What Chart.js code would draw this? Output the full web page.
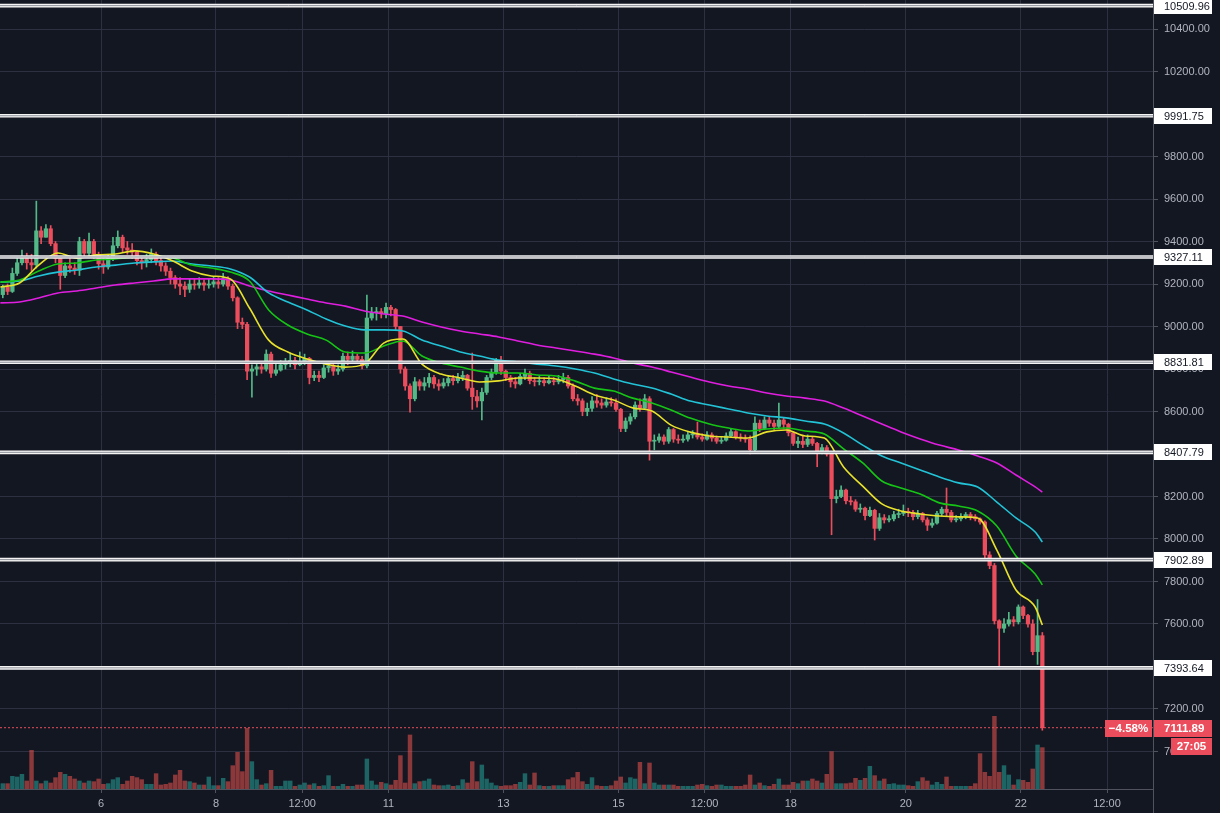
<!DOCTYPE html>
<html>
<head>
<meta charset="utf-8">
<script src="https://cdn.jsdelivr.net/npm/chart.js@4.4.1/dist/chart.umd.min.js"></script>
<style>
  html, body { margin: 0; padding: 0; background: #131722; }
  #wrap { width: 1220px; height: 813px; }
</style>
</head>
<body>
<div id="wrap"><canvas id="chart" width="1220" height="813"></canvas></div>
<script>
// BTC/USD, 2h bars. Time axis is in hours counted from day 4 00:00.
const FIRST_OPEN = 9150;
const FIRST_BAR_HOUR = 7;    // centre of the first bar
const BAR_HOURS = 2;

const closes = [
  9185, 9165, 9250, 9300, 9320, 9300, 9290, 9450, 9420, 9460,
  9390, 9320, 9240, 9285, 9275, 9265, 9400, 9345, 9400, 9340,
  9295, 9280, 9320, 9380, 9420, 9370, 9360, 9350, 9310, 9300,
  9315, 9340, 9310, 9285, 9260, 9230, 9200, 9190, 9175, 9200,
  9195, 9205, 9195, 9200, 9210, 9200, 9225, 9190, 9135, 9020,
  9010, 8790, 8800, 8810, 8800, 8870, 8780, 8795, 8820, 8830,
  8840, 8820, 8835, 8850, 8760, 8770, 8760, 8805, 8815, 8790,
  8800, 8860, 8845, 8860, 8845, 8815, 9040, 9065, 9070, 9060,
  9090, 9080, 9000, 8800, 8720, 8660, 8740, 8720, 8735, 8760,
  8730, 8720, 8735, 8755, 8745, 8760, 8770, 8710, 8670, 8650,
  8690, 8760, 8785, 8840, 8790, 8760, 8740, 8730, 8765, 8780,
  8745, 8740, 8745, 8735, 8745, 8740, 8750, 8760, 8720, 8660,
  8650, 8600, 8615, 8650, 8640, 8630, 8645, 8640, 8610, 8520,
  8555, 8575, 8630, 8615, 8660, 8460, 8465, 8480, 8460, 8515,
  8470, 8465, 8470, 8490, 8495, 8480, 8470, 8490, 8475, 8460,
  8465, 8485, 8505, 8480, 8475, 8470, 8420, 8545, 8520, 8560,
  8545, 8530, 8560, 8540, 8500, 8450, 8460, 8445, 8470, 8450,
  8405, 8430, 8400, 8190, 8200, 8230, 8180, 8175, 8140, 8145,
  8110, 8135, 8050, 8100, 8090, 8095, 8115, 8120, 8130, 8125,
  8105, 8120, 8090, 8065, 8075, 8120, 8140, 8125, 8090, 8095,
  8105, 8115, 8105, 8095, 8080, 7925, 7875, 7615, 7580, 7600,
  7620, 7610, 7680, 7640, 7600, 7470, 7545, 7111.89
];
const highs = [
  9195, 9200, 9275, 9320, 9360, 9345, 9340, 9590, 9470, 9480,
  9475, 9400, 9320, 9300, 9320, 9300, 9420, 9410, 9440, 9410,
  9350, 9320, 9340, 9420, 9450, 9430, 9400, 9390, 9355, 9330,
  9340, 9365, 9350, 9330, 9300, 9275, 9240, 9230, 9210, 9225,
  9225, 9230, 9220, 9225, 9235, 9230, 9250, 9235, 9200, 9140,
  9040, 9020, 8820, 8830, 8830, 8890, 8880, 8830, 8840, 8850,
  8875, 8855, 8880, 8870, 8855, 8790, 8790, 8820, 8835, 8830,
  8820, 8875, 8880, 8885, 8870, 8860, 9148, 9090, 9090, 9085,
  9110, 9100, 9085, 9000, 8810, 8730, 8760, 8750, 8760, 8780,
  8770, 8750, 8755, 8770, 8770, 8780, 8790, 8775, 8875, 8700,
  8710, 8770, 8800, 8850, 8860, 8795, 8770, 8760, 8780, 8800,
  8790, 8760, 8765, 8760, 8765, 8760, 8770, 8780, 8770, 8730,
  8680, 8660, 8640, 8670, 8680, 8660, 8665, 8665, 8660, 8615,
  8570, 8590, 8645, 8660, 8680, 8670, 8490, 8495, 8490, 8525,
  8520, 8490, 8490, 8505, 8510, 8550, 8495, 8505, 8500, 8485,
  8480, 8500, 8520, 8510, 8495, 8490, 8485, 8575, 8560, 8575,
  8575, 8560, 8640, 8570, 8545, 8505, 8480, 8485, 8490, 8480,
  8455, 8445, 8440, 8410, 8230, 8250, 8235, 8200, 8185, 8165,
  8150, 8150, 8140, 8120, 8115, 8110, 8130, 8140, 8160, 8145,
  8135, 8135, 8125, 8100, 8095, 8130, 8150, 8240, 8135, 8110,
  8120, 8125, 8125, 8115, 8100, 8085, 7940, 7885, 7620, 7625,
  7655, 7635, 7690, 7685, 7645, 7620, 7715, 7560
];
const lows = [
  9135, 9150, 9160, 9240, 9290, 9270, 9260, 9275, 9390, 9420,
  9380, 9300, 9175, 9230, 9255, 9245, 9240, 9330, 9330, 9320,
  9270, 9250, 9270, 9310, 9370, 9350, 9340, 9320, 9290, 9270,
  9280, 9300, 9290, 9260, 9240, 9200, 9180, 9150, 9140, 9160,
  9175, 9180, 9170, 9180, 9185, 9180, 9190, 9175, 9120, 8990,
  8990, 8750, 8668, 8770, 8780, 8790, 8760, 8770, 8790, 8800,
  8810, 8800, 8815, 8820, 8730, 8745, 8740, 8755, 8785, 8770,
  8775, 8790, 8820, 8830, 8825, 8800, 8805, 9030, 9030, 9040,
  9040, 9050, 8985, 8780, 8700, 8597, 8650, 8700, 8700, 8715,
  8710, 8700, 8710, 8720, 8725, 8735, 8745, 8700, 8610, 8620,
  8560, 8680, 8750, 8775, 8775, 8745, 8715, 8710, 8725, 8750,
  8730, 8720, 8725, 8720, 8730, 8725, 8730, 8735, 8710, 8650,
  8630, 8580, 8580, 8600, 8620, 8615, 8620, 8625, 8600, 8505,
  8505, 8540, 8565, 8600, 8610, 8371, 8420, 8455, 8445, 8450,
  8455, 8450, 8455, 8460, 8475, 8470, 8460, 8465, 8460, 8450,
  8450, 8460, 8480, 8470, 8460, 8455, 8400, 8410, 8505, 8515,
  8530, 8515, 8520, 8520, 8485, 8440, 8430, 8430, 8435, 8440,
  8340, 8400, 8390, 8020, 8170, 8195, 8165, 8160, 8130, 8125,
  8090, 8105, 7995, 8040, 8075, 8080, 8085, 8100, 8110, 8105,
  8090, 8095, 8080, 8040, 8055, 8070, 8110, 8105, 8080, 8080,
  8085, 8095, 8090, 8085, 8070, 7905, 7860, 7600, 7397, 7560,
  7590, 7590, 7600, 7625, 7585, 7455, 7410, 7100
];
const volumes = [
  8, 8, 19, 18, 22, 12, 58, 12, 8, 12,
  9, 17, 25, 22, 19, 15, 12, 9, 12, 11,
  15, 7, 8, 14, 17, 7, 12, 19, 17, 14,
  7, 7, 23, 6, 7, 9, 21, 28, 12, 11,
  9, 6, 6, 18, 5, 5, 16, 11, 35, 55,
  26, 91, 41, 14, 6, 8, 28, 4, 4, 12,
  12, 4, 6, 9, 6, 8, 4, 5, 20, 4,
  4, 7, 4, 4, 6, 6, 45, 12, 6, 10,
  8, 6, 13, 50, 9, 81, 8, 11, 12, 15,
  6, 5, 5, 6, 4, 5, 14, 9, 41, 11,
  36, 15, 9, 5, 4, 5, 5, 7, 10, 23,
  6, 24, 5, 4, 4, 5, 5, 5, 14, 17,
  25, 11, 7, 17, 5, 4, 4, 5, 12, 18,
  9, 17, 15, 40, 8, 39, 9, 6, 6, 6,
  6, 4, 4, 4, 4, 6, 7, 5, 4, 6,
  6, 4, 4, 4, 4, 6, 21, 6, 9, 5,
  4, 7, 15, 6, 6, 10, 8, 12, 12, 15,
  12, 9, 22, 56, 8, 8, 8, 9, 16, 13,
  16, 34, 20, 12, 15, 7, 8, 6, 6, 5,
  4, 11, 17, 12, 6, 10, 7, 18, 4, 4,
  4, 4, 4, 8, 53, 25, 19, 109, 25, 35,
  21, 6, 14, 13, 10, 30, 66, 62
];

// moving averages, read every 8 hours
const maHours = [
  6, 14, 22, 30, 38, 46, 54, 62, 70, 78, 86, 94, 102, 110, 118, 126, 134, 142, 150, 158,
  166, 174, 182, 190, 198, 206, 214, 222, 230, 238, 246, 254, 262, 270, 278, 286, 294, 302, 310, 318,
  326, 334, 342, 350, 358, 366, 374, 382, 390, 398, 406, 414, 422, 430, 438, 441
];
const maYellow = [
  9186, 9205, 9289, 9346, 9322, 9337, 9341, 9356, 9341, 9308,
  9261, 9238, 9224, 9087, 8936, 8880, 8847, 8823, 8809, 8823,
  8922, 8941, 8823, 8776, 8758, 8739, 8744, 8758, 8758, 8753,
  8720, 8678, 8654, 8617, 8602, 8536, 8503, 8485, 8480, 8475,
  8504, 8513, 8485, 8475, 8339, 8249, 8165, 8132, 8118, 8108,
  8104, 8099, 7948, 7760, 7680, 7595
];
const maGreen = [
  9209, 9219, 9261, 9294, 9299, 9313, 9318, 9327, 9332, 9322,
  9289, 9275, 9256, 9214, 9078, 9007, 8965, 8936, 8880, 8875,
  8908, 8932, 8861, 8828, 8809, 8790, 8781, 8781, 8772, 8767,
  8743, 8710, 8696, 8663, 8640, 8607, 8569, 8541, 8522, 8508,
  8518, 8522, 8508, 8494, 8424, 8358, 8273, 8240, 8212, 8170,
  8155, 8132, 8061, 7920, 7835, 7784
];
const maCyan = [
  9209, 9214, 9238, 9256, 9266, 9280, 9289, 9299, 9304, 9308,
  9294, 9285, 9271, 9233, 9158, 9115, 9078, 9035, 9002, 8984,
  8984, 8979, 8936, 8908, 8880, 8861, 8842, 8833, 8823, 8814,
  8800, 8781, 8753, 8729, 8711, 8682, 8649, 8631, 8612, 8593,
  8579, 8570, 8555, 8541, 8499, 8442, 8391, 8358, 8325, 8292,
  8264, 8245, 8174, 8099, 8033, 7986
];
const maMagenta = [
  9111, 9115, 9134, 9158, 9167, 9181, 9195, 9205, 9214, 9224,
  9224, 9224, 9219, 9191, 9167, 9148, 9129, 9111, 9096, 9073,
  9059, 9049, 9021, 8998, 8979, 8965, 8951, 8932, 8913, 8899,
  8885, 8870, 8852, 8828, 8809, 8786, 8762, 8739, 8720, 8706,
  8687, 8673, 8663, 8649, 8616, 8579, 8541, 8504, 8471, 8442,
  8419, 8391, 8358, 8301, 8245, 8221
];

const levels = [10509.96, 9991.75, 9327.11, 8831.81, 8407.79, 7902.89, 7393.64];
const lastPrice = 7111.89;
const changeText = "\u22124.58%";
const countdownText = "27:05";

const yTicks = [7000, 7200, 7400, 7600, 7800, 8000, 8200, 8400, 8600, 8800,
                9000, 9200, 9400, 9600, 9800, 10000, 10200, 10400];
const xTickHours = [48, 96, 132, 168, 216, 264, 300, 336, 384, 432, 468];
const xTickLabels = ["6", "8", "12:00", "11", "13", "15", "12:00", "18", "20", "22", "12:00"];

// visible window
const X_MIN = 5.83, X_MAX = 487.2;
const Y_MIN = 6823.5, Y_MAX = 10536.5;
const VOL_MAX = 1183;

// colours
const BG = "#131722";
const GRID = "#2c3040";
const AXIS = "#50535e";
const TEXT = "#b2b5be";
const UP = "#53b987";
const DOWN = "#eb4d5c";
const VOL_UP = "rgba(38,166,154,0.55)";
const VOL_DOWN = "rgba(239,83,80,0.55)";

Chart.defaults.font.family = "'Liberation Sans', Arial, sans-serif";

const opens = closes.map((c, i) => i === 0 ? FIRST_OPEN : closes[i - 1]);
const barHours = closes.map((_, i) => FIRST_BAR_HOUR + BAR_HOURS * i);
const isUp = closes.map((c, i) => c >= opens[i]);
const candleColors = isUp.map(u => u ? UP : DOWN);

const barCommon = { grouped: false, barPercentage: 1, categoryPercentage: 1 };

function maLine(values, color, order) {
  return {
    type: "line",
    data: maHours.map((h, i) => ({ x: h, y: values[i] })),
    borderColor: color,
    borderWidth: 1.6,
    pointRadius: 0,
    cubicInterpolationMode: "monotone",
    order,
  };
}

function levelLine(value, color, width, order) {
  return {
    type: "line",
    data: [{ x: X_MIN, y: value }, { x: X_MAX, y: value }],
    borderColor: color,
    borderWidth: width,
    pointRadius: 0,
    order,
  };
}

const datasets = [
  {
    ...barCommon,
    yAxisID: "yv",
    data: barHours.map((h, i) => ({ x: h, y: volumes[i] })),
    backgroundColor: isUp.map(u => u ? VOL_UP : VOL_DOWN),
    maxBarThickness: 3.8,
    order: 20,
  },
  {
    type: "line",
    data: [{ x: X_MIN, y: lastPrice }, { x: X_MAX, y: lastPrice }],
    borderColor: DOWN,
    borderWidth: 1,
    borderDash: [2, 2],
    pointRadius: 0,
    order: 19,
  },
  {
    ...barCommon,
    data: barHours.map((h, i) => ({ x: h, y: [lows[i], highs[i]] })),
    backgroundColor: candleColors,
    maxBarThickness: 1,
    order: 18,
  },
  {
    ...barCommon,
    data: barHours.map((h, i) => ({ x: h, y: [opens[i], closes[i]] })),
    backgroundColor: candleColors,
    maxBarThickness: 3.6,
    minBarLength: 1,
    order: 17,
  },
  maLine(maMagenta, "#e01ee0", 10),
  maLine(maCyan, "#22c3d6", 9),
  maLine(maGreen, "#16c416", 8),
  maLine(maYellow, "#e8e22c", 7),
];
levels.forEach(lv => {
  datasets.push(levelLine(lv, "#f4f4f4", 3.6, 2));
  datasets.push(levelLine(lv, "#8d9099", 1, 1));
});

// background, price-scale tags and the last-price badges
const tvDecor = {
  id: "tvDecor",
  beforeDraw(chart) {
    const { ctx, width, height } = chart;
    ctx.save();
    ctx.fillStyle = BG;
    ctx.fillRect(0, 0, width, height);
    ctx.restore();
  },
  afterDraw(chart) {
    const { ctx } = chart;
    const ys = chart.scales.y;
    const left = ys.left;
    ctx.save();
    ctx.textBaseline = "middle";

    ctx.font = "11px 'Liberation Sans', Arial, sans-serif";
    levels.forEach(lv => {
      const py = Math.round(ys.getPixelForValue(lv));
      ctx.fillStyle = "#ffffff";
      ctx.fillRect(left + 1, py - 8, 58, 16);
      ctx.fillStyle = BG;
      ctx.textAlign = "left";
      ctx.fillText(lv.toFixed(2), left + 11, py + 0.5);
    });

    const lp = Math.round(ys.getPixelForValue(lastPrice));
    ctx.font = "bold 11.5px 'Liberation Sans', Arial, sans-serif";
    ctx.fillStyle = DOWN;
    ctx.fillRect(left - 48, lp - 8, 47, 17);
    ctx.fillRect(left + 1, lp - 8, 58, 17);
    ctx.fillRect(left + 18, lp + 10, 41, 17);
    ctx.fillStyle = "#ffffff";
    ctx.textAlign = "center";
    ctx.fillText(changeText, left - 24.5, lp + 1);
    ctx.fillText(countdownText, left + 38.5, lp + 19);
    ctx.textAlign = "left";
    ctx.fillText(lastPrice.toFixed(2), left + 11, lp + 1);

    // price axis line through the time-scale strip
    ctx.strokeStyle = AXIS;
    ctx.lineWidth = 1;
    ctx.beginPath();
    ctx.moveTo(left + 0.5, chart.chartArea.bottom);
    ctx.lineTo(left + 0.5, chart.height);
    ctx.stroke();
    ctx.restore();
  },
};

new Chart(document.getElementById("chart"), {
  type: "bar",
  data: { datasets },
  plugins: [tvDecor],
  options: {
    responsive: false,
    animation: false,
    devicePixelRatio: 1,
    layout: { padding: 0 },
    plugins: { legend: { display: false }, tooltip: { enabled: false } },
    scales: {
      x: {
        type: "linear",
        position: "bottom",
        min: X_MIN,
        max: X_MAX,
        offset: false,
        afterBuildTicks: s => { s.ticks = xTickHours.map(v => ({ value: v })); },
        afterFit: s => { s.height = 24; s.paddingLeft = 0; s.paddingRight = 0; },
        grid: { color: GRID, offset: false, tickLength: 4, tickColor: AXIS },
        border: { color: AXIS },
        ticks: {
          color: TEXT,
          font: { size: 11 },
          padding: 4,
          maxRotation: 0,
          autoSkip: false,
          callback: (v, i) => xTickLabels[i],
        },
      },
      y: {
        type: "linear",
        position: "right",
        min: Y_MIN,
        max: Y_MAX,
        afterBuildTicks: s => { s.ticks = yTicks.map(v => ({ value: v })); },
        afterFit: s => { s.width = 67; s.paddingTop = 0; s.paddingBottom = 0; },
        grid: { color: GRID, tickLength: 5, tickColor: AXIS },
        border: { color: AXIS },
        ticks: {
          color: TEXT,
          font: { size: 11 },
          padding: 6,
          callback: v => Number(v).toFixed(2),
        },
      },
      yv: {
        type: "linear",
        display: false,
        min: 0,
        max: VOL_MAX,
      },
    },
  },
});
</script>
</body>
</html>
